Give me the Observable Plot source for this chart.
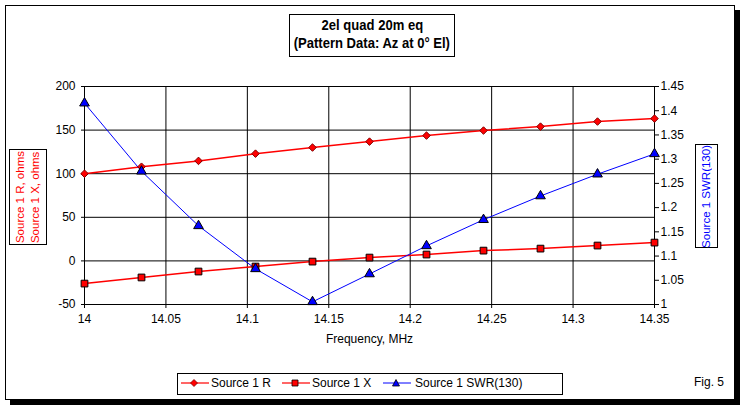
<!DOCTYPE html>
<html><head><meta charset="utf-8">
<script src="https://cdn.jsdelivr.net/npm/d3@7"></script>
<script src="https://cdn.jsdelivr.net/npm/@observablehq/plot@0.6"></script>
<style>
html,body{margin:0;padding:0;background:#fff;}
#page{position:relative;width:744px;height:407px;overflow:hidden;font-family:"Liberation Sans",Arial,sans-serif;background:#fff;}
#page > svg{position:absolute;left:0;top:0;}
.abs{position:absolute;}
#frame{left:5px;top:5px;width:728px;height:393px;border:1px solid #000;box-shadow:5px 5px 0 #000;}
#title{left:289px;top:14px;width:164px;height:40px;border:1px solid #000;display:flex;flex-direction:column;align-items:center;font-family:"Liberation Sans",Arial,sans-serif;font-weight:bold;font-size:15px;line-height:18px;padding-top:1px;white-space:nowrap;}
#title span{display:block;flex:none;transform:scaleX(0.87);transform-origin:center;}
.vbox{border:1px solid #000;display:flex;align-items:center;justify-content:center;font-size:11.5px;line-height:15px;}
.vbox span{writing-mode:vertical-rl;transform:rotate(180deg);white-space:nowrap;}
#ylab{left:9px;top:149px;width:36px;height:94px;color:#f00;}
#y2lab{left:695px;top:144px;width:21px;height:102px;color:#00f;}
#legend{left:177px;top:373px;width:384px;height:20px;border:1px solid #000;}
.lt{position:absolute;font-size:12px;top:376px;white-space:nowrap;}
#fig{left:694px;top:375px;font-size:12px;}
</style>
</head><body><div id="page">
<div id="frame" class="abs"></div>
<div id="title" class="abs"><span>2el quad 20m eq</span><span>(Pattern Data: Az at 0° El)</span></div>
<div id="ylab" class="abs vbox"><span>Source 1 R, ohms<br>Source 1 X, ohms</span></div>
<div id="y2lab" class="abs vbox"><span>Source 1 SWR(130)</span></div>
<div id="legend" class="abs"></div>
<div id="fig" class="abs">Fig. 5</div>
</div>
<script>
const freq = [14, 14.035, 14.07, 14.105, 14.14, 14.175, 14.21, 14.245, 14.28, 14.315, 14.35];
const sourceR = [100, 108, 114.7, 123, 130, 136.8, 143.7, 149.5, 154, 159.8, 163.2];
const sourceX = [-26, -19, -12.2, -6.5, -0.8, 3.8, 7.3, 11.8, 14.1, 17.6, 21];
const swr = [1.4156, 1.275, 1.1624, 1.0736, 1.0055, 1.063, 1.121, 1.175, 1.224, 1.269, 1.311];
const xTicks = [14, 14.05, 14.1, 14.15, 14.2, 14.25, 14.3, 14.35];
const yTicks = [-50, 0, 50, 100, 150, 200];
const swrTicks = [1, 1.05, 1.1, 1.15, 1.2, 1.25, 1.3, 1.35, 1.4, 1.45];
const seriesNames = ["Source 1 R", "Source 1 X", "Source 1 SWR(130)"];

const yDomain = [-50, 200];
const swrDomain = [1, 1.45];
const toY = s => yDomain[0] + (s - swrDomain[0]) / (swrDomain[1] - swrDomain[0]) * (yDomain[1] - yDomain[0]);
const fromY = y => swrDomain[0] + (y - yDomain[0]) / (yDomain[1] - yDomain[0]) * (swrDomain[1] - swrDomain[0]);

const rows = freq.map((f, i) => ({f, r: sourceR[i], x: sourceX[i], s: toY(swr[i])}));
const fmt = d => String(+(+d).toFixed(2));

const chart = Plot.plot({
  width: 744, height: 407,
  marginLeft: 84, marginRight: 90, marginTop: 86, marginBottom: 103,
  style: {fontFamily: "'Liberation Sans', Arial, sans-serif", fontSize: "12px", background: "transparent", color: "#000"},
  x: {domain: [14, 14.35]},
  y: {domain: yDomain},
  marks: [
    Plot.gridX(xTicks, {stroke: "#000", strokeOpacity: 1}),
    Plot.gridY(yTicks, {stroke: "#000", strokeOpacity: 1}),
    Plot.frame({stroke: "#000"}),
    Plot.axisX(xTicks, {tickFormat: fmt, tickSize: 4, tickPadding: 6, label: "Frequency, MHz", labelAnchor: "center", labelArrow: "none", labelOffset: 38, fontSize: 12}),
    Plot.axisY(yTicks, {anchor: "left", tickFormat: d => String(d), tickSize: 3, tickPadding: 6, label: null, fontSize: 12}),
    Plot.axisY(swrTicks.map(toY), {anchor: "right", tickFormat: d => fmt(fromY(d)), tickSize: 4, tickPadding: 2, label: null, fontSize: 12}),
    Plot.line(rows, {x: "f", y: "r", stroke: "#ff0000", strokeWidth: 1.5}),
    Plot.line(rows, {x: "f", y: "x", stroke: "#ff0000", strokeWidth: 1.5}),
    Plot.line(rows, {x: "f", y: "s", stroke: "#0000ff", strokeWidth: 1}),
    Plot.dot(rows, {x: "f", y: "r", symbol: "diamond2", r: 3.4, fill: "#ff0000", stroke: "#800000", strokeWidth: 1}),
    Plot.dot(rows, {x: "f", y: "x", symbol: "square", r: 3.8, fill: "#ff0000", stroke: "#000", strokeWidth: 1}),
    Plot.dot(rows, {x: "f", y: "s", symbol: "triangle", r: 3.6, fill: "#0000ff", stroke: "#000", strokeWidth: 1})
  ]
});
document.getElementById("page").insertBefore(chart, document.getElementById("frame").nextSibling);

// legend
const page = document.getElementById("page");
const legendItems = [
  {name: seriesNames[0], color: "#ff0000", sym: "diamond", lx: 181, tx: 211},
  {name: seriesNames[1], color: "#ff0000", sym: "square", lx: 282, tx: 312},
  {name: seriesNames[2], color: "#0000ff", sym: "triangle", lx: 383, tx: 415}
];
const ns = "http://www.w3.org/2000/svg";
for (const it of legendItems) {
  const svg = document.createElementNS(ns, "svg");
  svg.setAttribute("width", 30); svg.setAttribute("height", 14);
  svg.style.position = "absolute"; svg.style.left = it.lx + "px"; svg.style.top = "376px";
  const ln = document.createElementNS(ns, "line");
  ln.setAttribute("x1", 0); ln.setAttribute("x2", 28); ln.setAttribute("y1", 7); ln.setAttribute("y2", 7);
  ln.setAttribute("stroke", it.color); ln.setAttribute("stroke-width", it.sym === "triangle" ? 1 : 1.2);
  svg.appendChild(ln);
  const p = document.createElementNS(ns, "path");
  let d;
  if (it.sym === "diamond") d = "M13,3.5L16.5,7L13,10.5L9.5,7Z";
  else if (it.sym === "square") d = "M10,4H16V10H10Z";
  else d = "M13,3.5L16.5,10H9.5Z";
  p.setAttribute("d", d);
  p.setAttribute("fill", it.color);
  p.setAttribute("stroke", it.sym === "diamond" ? "#800000" : "#000");
  p.setAttribute("stroke-width", 0.8);
  svg.appendChild(p);
  page.appendChild(svg);
  const t = document.createElement("div");
  t.className = "lt"; t.style.left = it.tx + "px"; t.textContent = it.name;
  page.appendChild(t);
}
</script>
</body></html>
